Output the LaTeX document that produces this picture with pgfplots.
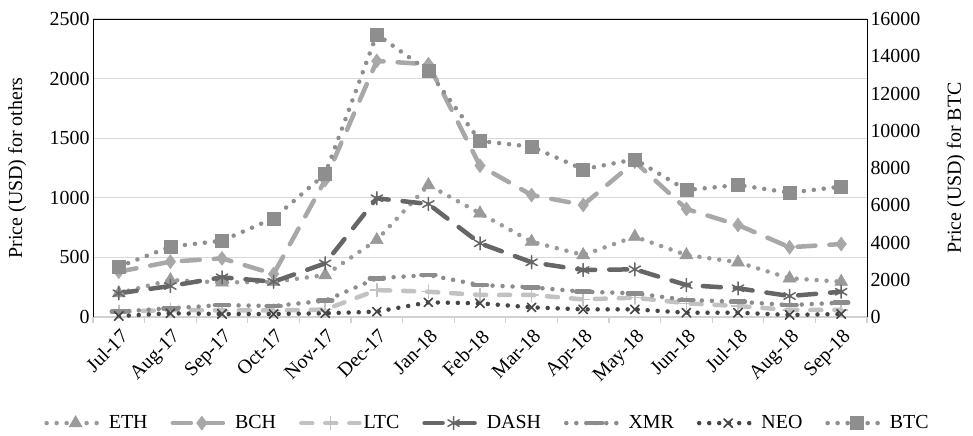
\documentclass[border=0pt]{standalone}
\usepackage{fontspec}
\setmainfont{Liberation Serif}
\usepackage{pgfplots}
\pgfplotsset{compat=1.18}

\definecolor{cETH}{HTML}{9A9A9A}
\definecolor{cBCH}{HTML}{A8A8A8}
\definecolor{cLTC}{HTML}{C2C2C2}
\definecolor{cDASH}{HTML}{666666}
\definecolor{cXMR}{HTML}{8C8C8C}
\definecolor{cNEO}{HTML}{454545}
\definecolor{cBTC}{HTML}{8E8E8E}

\tikzset{
 dotline/.style={line width=4.5bp, line cap=round, dash pattern=on 0bp off 10bp},
 longdash/.style={line width=4.5bp, line cap=round, dash pattern=on 18bp off 14bp},
 shortdash/.style={line width=4.5bp, line cap=round, dash pattern=on 11bp off 13bp},
 myfont/.style={font=\fontsize{20}{24}\selectfont},
}

\pgfplotsset{
 sETH/.style={color=cETH, dotline, mark=triangle*, mark size=7.5bp, mark options={solid, fill=cETH, line width=0.5bp}},
 sBCH/.style={color=cBCH, longdash, mark=diamond*, mark size=7bp, mark options={solid, fill=cBCH, line width=0.5bp}},
 sLTC/.style={color=cLTC, shortdash, mark=+, mark size=6.5bp, mark options={solid, line width=1.5bp}},
 sDASH/.style={color=cDASH, longdash, mark=asterisk, mark size=6.5bp, mark options={solid, line width=1.5bp}},
 sXMR/.style={color=cXMR, dotline, mark=-, mark size=7bp, mark options={solid, line width=4.5bp, line cap=round}},
 sNEO/.style={color=cNEO, dotline, mark=x, mark size=6bp, mark options={solid, line width=1.6bp}},
 sBTC/.style={color=cBTC, dotline, mark=square*, mark size=6.5bp, mark options={solid, fill=cBTC, line width=0.5bp}},
}

\begin{document}
\begin{tikzpicture}
\path[use as bounding box] (-93bp,-119bp) rectangle (880bp,317bp);
\begin{axis}[
 at={(0,0)}, anchor=south west,
 scale only axis, width=774bp, height=298bp,
 xmin=-0.5, xmax=14.5, ymin=0, ymax=2500,
 axis x line*=bottom, axis y line*=left,
 x axis line style={draw=black!18, line width=1.3bp},
 y axis line style={draw=black, line width=0.8bp},
 xtick={0,...,14},
 xticklabels={Jul-17,Aug-17,Sep-17,Oct-17,Nov-17,Dec-17,Jan-18,Feb-18,Mar-18,Apr-18,May-18,Jun-18,Jul-18,Aug-18,Sep-18},
 minor xtick={-0.5,0.5,...,14.5},
 tick align=outside, major tick length=0bp, minor tick length=6bp,
 major x tick style={draw=none},
 minor x tick style={draw=black!18, line width=1.3bp},
 ytick={0,500,...,2500}, ytick style={draw=none},
 ymajorgrids, major grid style={draw=black!15, line width=1.3bp},
 scaled y ticks=false,
 /pgf/number format/assume math mode=true, /pgf/number format/1000 sep={},
 tick label style={myfont},
 xticklabel style={anchor=north east, xshift=0.7bp, yshift=-6.2bp, rotate=45},
 ylabel={Price (USD) for others},
 ylabel style={myfont, at={(axis description cs:-0.098,0.5)}, anchor=center},
]
\addplot[sETH] coordinates {(0,200) (1,310) (2,290) (3,295) (4,352) (5,646) (6,1107) (7,870) (8,632) (9,520) (10,674) (11,520) (12,459) (13,325) (14,296)};
\addplot[sBCH] coordinates {(0,380) (1,464) (2,492) (3,361) (4,1149) (5,2148) (6,2120) (7,1269) (8,1023) (9,940) (10,1303) (11,906) (12,772) (13,585) (14,612)};
\addplot[sLTC] coordinates {(0,45) (1,59) (2,55) (3,55) (4,62) (5,226) (6,212) (7,185) (8,185) (9,148) (10,162) (11,115) (12,92) (13,59) (14,59)};
\addplot[sDASH] coordinates {(0,199) (1,260) (2,333) (3,296) (4,450) (5,996) (6,948) (7,618) (8,459) (9,394) (10,400) (11,268) (12,241) (13,176) (14,212)};
\addplot[sXMR] coordinates {(0,45) (1,73) (2,100) (3,92) (4,137) (5,325) (6,352) (7,268) (8,249) (9,212) (10,199) (11,143) (12,128) (13,100) (14,120)};
\addplot[sNEO] coordinates {(0,8) (1,31) (2,25) (3,25) (4,31) (5,45) (6,123) (7,115) (8,81) (9,64) (10,64) (11,36) (12,36) (13,17) (14,25)};
\end{axis}
\begin{axis}[
 at={(0,0)}, anchor=south west,
 scale only axis, width=774bp, height=298bp,
 xmin=-0.5, xmax=14.5, ymin=0, ymax=16000,
 axis x line*=top, axis y line*=right,
 x axis line style={draw=black, line width=0.8bp},
 y axis line style={draw=black, line width=0.8bp},
 xtick=\empty,
 ytick={0,2000,...,16000}, ytick style={draw=none},
 scaled y ticks=false,
 /pgf/number format/assume math mode=true, /pgf/number format/1000 sep={},
 tick label style={myfont},
 ylabel={Price (USD) for BTC},
 ylabel style={myfont, at={(axis description cs:1.115,0.5)}, anchor=center},
 legend columns=7,
 legend style={at={(0.5097,-0.356)}, anchor=center, draw=none, fill=none, myfont,
   /tikz/every even column/.append style={column sep=21bp}},
 legend image code/.code={\draw[mark repeat=2, mark phase=2, #1] plot coordinates {(0bp,0bp) (29bp,0bp) (58bp,0bp)};},
]
\addlegendimage{sETH}\addlegendentry{ETH}
\addlegendimage{sBCH}\addlegendentry{BCH}
\addlegendimage{sLTC}\addlegendentry{LTC}
\addlegendimage{sDASH}\addlegendentry{DASH}
\addlegendimage{sXMR}\addlegendentry{XMR}
\addlegendimage{sNEO}\addlegendentry{NEO}
\addplot[sBTC] coordinates {(0,2700) (1,3775) (2,4097) (3,5300) (4,7678) (5,15180) (6,13208) (7,9450) (8,9144) (9,7930) (10,8467) (11,6819) (12,7087) (13,6675) (14,6997)};
\addlegendentry{BTC}
\end{axis}
\end{tikzpicture}
\end{document}
